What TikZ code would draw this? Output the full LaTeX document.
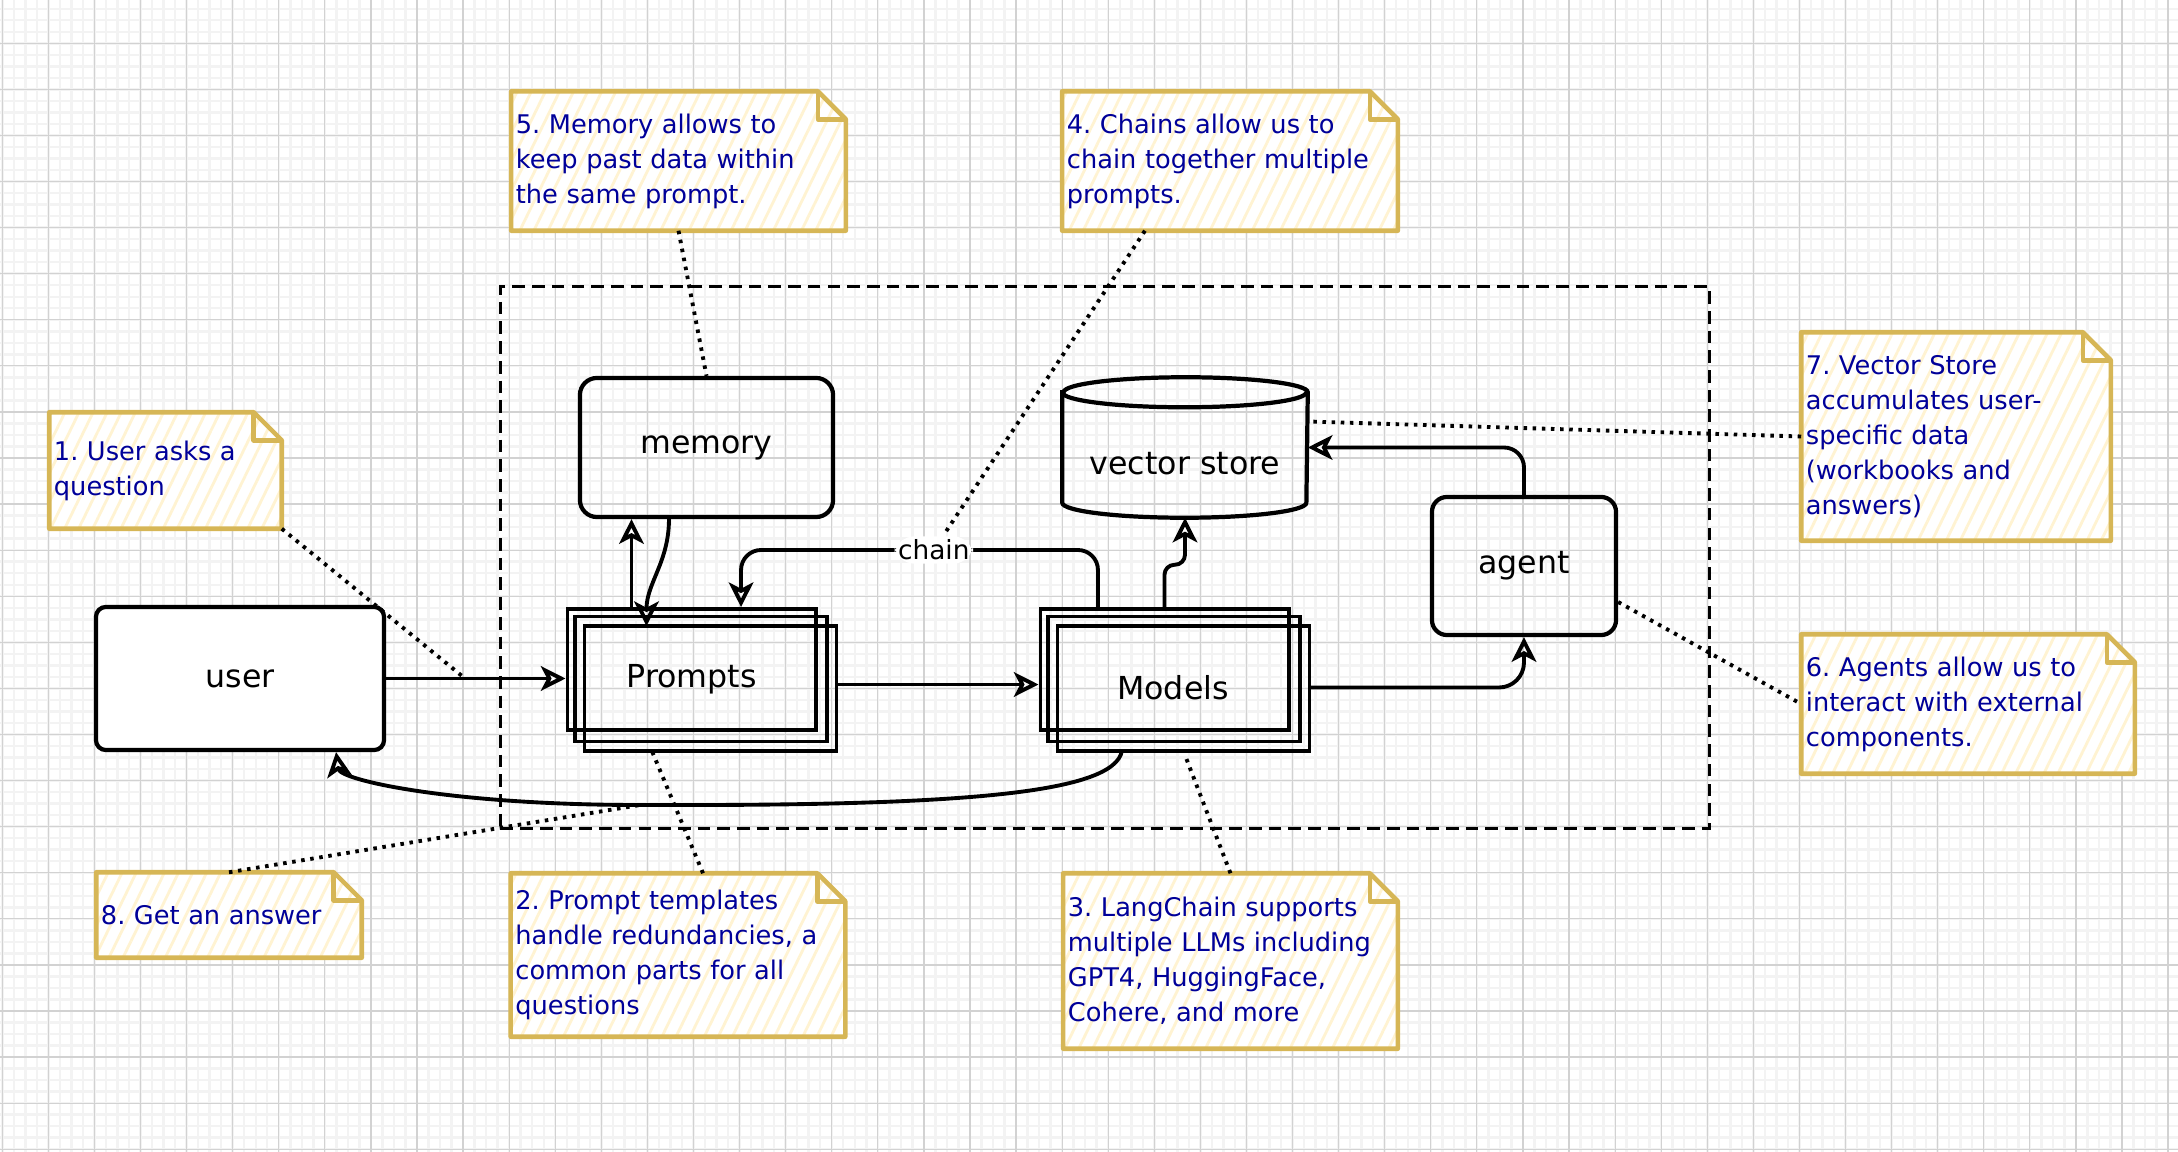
\documentclass[tikz,border=0pt]{standalone}
\usepackage{fontspec}
\setmainfont{DejaVu Sans}
\usetikzlibrary{arrows.meta,patterns.meta,backgrounds}
\definecolor{ink}{HTML}{000000}
\definecolor{navy}{HTML}{000099}
\definecolor{gold}{HTML}{D6B656}
\definecolor{hatch}{HTML}{FFF3D2}
\definecolor{gridmaj}{HTML}{D2D2D2}
\definecolor{gridmin}{HTML}{F3F3F3}
\newcommand\bxfont{\fontsize{9}{11}\selectfont}
\newcommand\ntfont{\fontsize{7.3}{9.96}\selectfont}
\frenchspacing
\tikzset{
  grdmaj/.style={draw=gridmaj, line width=0.35pt},
  grdmin/.style={draw=gridmin, line width=0.7pt},
  box/.style={draw=ink, line width=1.2pt, rounded corners=1.5mm, font=\bxfont, inner sep=2pt},
  stk/.style={draw=ink, line width=1.1pt, font=\bxfont, minimum width=2.48cm, minimum height=1.21cm},
  bare/.style={font=\bxfont, inner sep=0pt},
  grp/.style={draw=ink, line width=0.9pt, dash pattern=on 3.6pt off 2pt},
  flow/.style={draw=ink, line width=1.1pt, -{Stealth[open, length=7pt, width=7pt, inset=1.8pt]}},
  note/.style={text=navy, font=\ntfont, align=left, inner xsep=0.04cm, inner ysep=0pt},
  notebox/.style={draw=gold, line width=1.3pt, line join=round, preaction={fill=white},
    pattern={Lines[angle=64, distance=3.6pt, line width=0.8pt]}, pattern color=hatch},
  notefold/.style={draw=gold, line width=1.3pt, line join=round},
  call/.style={draw=ink, line width=1.1pt, dash pattern=on 1pt off 1.6pt},
  lbl/.style={fill=white, font=\fontsize{7.5}{9}\selectfont, inner sep=1pt},
}

\begin{document}
\begin{tikzpicture}[x=0.01cm, y=-0.01cm]
  \useasboundingbox (0,0) rectangle (2178,1152);
  \begin{scope}[on background layer]
    \foreach \gx in {2.3,13.82,...,2178} \draw[grdmin] (\gx,0) -- (\gx,1152);
    \foreach \gy in {8.74,20.26,...,1152} \draw[grdmin] (0,\gy) -- (2178,\gy);
    \foreach \gx in {2.3,48.38,...,2178} \draw[grdmaj] (\gx,0) -- (\gx,1152);
    \foreach \gy in {43.3,89.38,...,1152} \draw[grdmaj] (0,\gy) -- (2178,\gy);
  \end{scope}

  \node[grp, minimum width=12.08cm, minimum height=5.41cm] (grp) at (1105,557.5) {};

  \node[box, fill=white, rounded corners=1mm, minimum width=2.88cm, minimum height=1.43cm] (user) at (240,678.5) {user};
  \node[box, rounded corners=1.7mm, minimum width=2.53cm, minimum height=1.39cm] (mem) at (706.5,447.5) {memory};
  \node[box, minimum width=1.84cm, minimum height=1.38cm] (agent) at (1524,566) {agent};
  \node[bare, minimum width=2.44cm, minimum height=1.39cm] (vs) at (1185,447.5) {\raisebox{-1.6mm}[\height][\depth]{vector store}};
  \node[stk] (prm) at (691.5,669.5) {\raisebox{-1mm}[\height][\depth]{Prompts}};
  \node[stk] (mdl) at (1164.5,669.5) {\raisebox{-1.8mm}[\height][\depth]{\hspace*{1.7mm}Models}};
  \foreach \s in {1,2}{
    \draw[stk] ([xshift=\s*0.95mm, yshift=-\s*0.95mm]prm.north west) rectangle ([xshift=\s*0.95mm, yshift=-\s*0.95mm]prm.south east);
    \draw[stk] ([xshift=\s*0.95mm, yshift=-\s*0.95mm]mdl.north west) rectangle ([xshift=\s*0.95mm, yshift=-\s*0.95mm]mdl.south east);
  }
  \draw[box, sharp corners] ([yshift=-1.5mm]vs.north west) -- ([yshift=1.5mm]vs.south west)
    arc[start angle=180, end angle=360, x radius=1.22cm, y radius=1.5mm]
    -- ([yshift=-1.5mm]vs.north east)
    arc[start angle=0, end angle=180, x radius=1.22cm, y radius=1.5mm] -- cycle;
  \draw[box, sharp corners] ([yshift=-1.5mm]vs.north west) arc[start angle=180, end angle=360, x radius=1.22cm, y radius=1.5mm];

  \coordinate (p2m) at ([xshift=1.8mm, yshift=-1.5mm]prm.east);
  \coordinate (m2a) at ([xshift=1.8mm, yshift=-1.8mm]mdl.east);
  \coordinate (p2u) at ([xshift=-6mm]prm.north);
  \draw[flow] (user.east) -- coordinate[pos=0.44] (ask) (user.east -| prm.west);
  \draw[flow] (p2m) -- (p2m -| mdl.west);
  \draw[flow, rounded corners=2.5mm] (m2a) -| (agent.south);
  \draw[flow, rounded corners=2mm] (agent.north) |- (vs.east);
  \draw[flow, rounded corners=1mm] (mdl.north) |- ([yshift=-4.7mm]vs.south) -- (vs.south);
  \draw[flow, rounded corners=2mm] ([xshift=-6.65mm]mdl.north) |- node[lbl, pos=0.73] (chl) {chain}
    ([xshift=4.95mm, yshift=5.7mm]prm.north) -- ([xshift=4.95mm]prm.north);
  \draw[flow] (p2u) -- (p2u |- mem.south);
  \draw[flow] ([xshift=-3.75mm]mem.south) to[out=-90, in=90] ([xshift=-4.5mm, yshift=-1.9mm]prm.north);
  \draw[flow] ([xshift=-4.25mm, yshift=-1.85mm]mdl.south) .. controls (1115,795) and (950,806) .. (640,805) coordinate (ans)
    .. controls (450,805) and (340,780) .. ([xshift=9.6mm]user.south);

  \node[note, text width=2.23cm, minimum height=1.15cm] (n1) at (165.5,470.5) {1. User asks a\\question};
  \node[note, text width=3.25cm, minimum height=1.38cm] (n5) at (678.5,161) {5. Memory allows to\\keep past data within\\the same prompt.};
  \node[note, text width=3.26cm, minimum height=1.38cm] (n4) at (1230,161) {4. Chains allow us to\\chain together multiple\\prompts.};
  \node[note, text width=3.00cm, minimum height=2.07cm] (n7) at (1956,436.5) {7. Vector Store\\accumulates user-\\specific data\\(workbooks and\\answers)};
  \node[note, text width=3.24cm, minimum height=1.38cm] (n6) at (1968,704) {6. Agents allow us to\\interact with external\\components.};
  \node[note, text width=2.56cm, minimum height=0.84cm] (n8) at (229,915) {8. Get an answer};
  \node[note, text width=3.25cm, minimum height=1.62cm] (n2) at (678,955) {2. Prompt templates\\handle redundancies, a\\common parts for all\\questions};
  \node[note, text width=3.25cm, minimum height=1.74cm] (n3) at (1230.5,961) {3. LangChain supports\\multiple LLMs including\\GPT4, HuggingFace,\\Cohere, and more};
  \begin{scope}[on background layer]
    \foreach \n in {n1,n2,n3,n4,n5,n6,n7,n8}{
      \draw[notebox] (\n.north west) -- ([xshift=-2.8mm]\n.north east) -- ([yshift=-2.8mm]\n.north east)
        -- (\n.south east) -- (\n.south west) -- cycle;
      \draw[notefold] ([xshift=-2.8mm]\n.north east) -- ([xshift=-2.8mm, yshift=-2.8mm]\n.north east) -- ([yshift=-2.8mm]\n.north east);
    }
  \end{scope}

  \draw[call] (n1.south east) -- (ask);
  \draw[call] (n5.south) -- (mem.north);
  \draw[call] ([xshift=-8.5mm]n4.south) -- (chl);
  \draw[call] (n7.west) -- ([yshift=2.6mm]vs.east);
  \draw[call] ([yshift=-3.6mm]agent.east) -- (n6.west);
  \draw[call] (n8.north) -- (ans);
  \draw[call] ([xshift=2.5mm]n2.north) -- ([xshift=-4mm, yshift=-1.8mm]prm.south);
  \draw[call] (n3.north) -- ([xshift=2mm, yshift=-2.2mm]mdl.south);
\end{tikzpicture}
\end{document}
